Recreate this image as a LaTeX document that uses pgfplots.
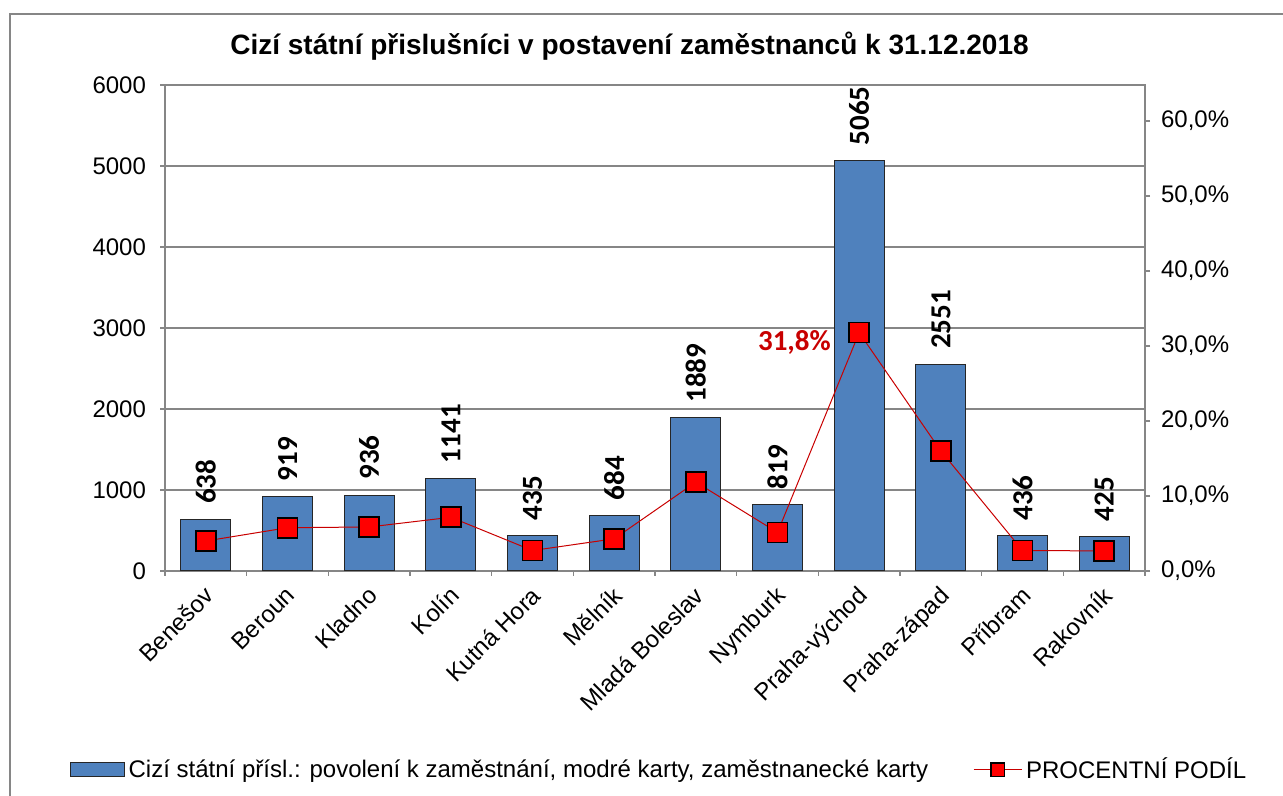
\documentclass[border=0pt]{standalone}
\usepackage{fontspec}
\setmainfont{Liberation Sans}
\newfontfamily\carlito{Carlito}
\usepackage{pgfplots}
\pgfplotsset{compat=1.18}
\definecolor{barblue}{RGB}{79,129,189}
\definecolor{gridgray}{RGB}{134,134,134}
\definecolor{darkred}{RGB}{200,0,0}
\pgfplotsset{
  mylineleg/.style={legend image code/.code={\draw[##1, mark size=3.4pt, mark repeat=2, mark phase=2] plot coordinates {(0pt,0pt) (12pt,0pt) (24pt,0pt)};}},
  mybarleg/.style={legend image code/.code={\draw[fill=barblue, draw=black!85, line width=0.5pt] (0pt,-3.5pt) rectangle (27pt,3.5pt);}}
}
\begin{document}
\begin{tikzpicture}[x=1pt,y=1pt]
\useasboundingbox (0,0) rectangle (641.5,398);
\draw[gridgray, line width=0.6pt] (5,-10) -- (5,391) -- (660,391);
\begin{axis}[
  at={(82.5pt,112.5pt)}, anchor=south west,
  width=490pt, height=243pt, scale only axis,
  xmin=-0.5, xmax=11.5, ymin=0, ymax=6000,
  axis line style={gridgray, line width=0.6pt},
  xtick={0,...,11},
  xticklabels={Benešov,Beroun,Kladno,Kolín,Kutná Hora,Mělník,Mladá Boleslav,Nymburk,Praha-východ,Praha-západ,Příbram,Rakovník},
  major x tick style={draw=none},
  minor xtick={-0.5,0.5,...,11.5},
  minor x tick style={gridgray, line width=0.6pt},
  minor tick length=2.5pt,
  major tick length=2.5pt,
  tick align=outside,
  xtick pos=bottom, ytick pos=left,
  ytick={0,1000,...,6000},
  yticklabels={0,1000,2000,3000,4000,5000,6000},
  ymajorgrids, grid style={gridgray, line width=0.6pt},
  y tick style={gridgray, line width=0.6pt},
  tick label style={font=\fontsize{12}{14}\selectfont, black},
  y tick label style={xshift=-3.5pt},
  x tick label style={rotate=45, anchor=north east, inner sep=1pt, xshift=-3pt, yshift=-1pt},
  title={\bfseries Cizí státní přislušníci v postavení zaměstnanců k 31.12.2018},
  title style={at={(0.474,1.055)}, anchor=center, font=\fontsize{14}{16}\selectfont},
]
\addplot[ybar, bar width=25pt, fill=barblue, draw=black!85, line width=0.5pt,
  nodes near coords, point meta=explicit symbolic,
  every node near coord/.append style={rotate=90, anchor=west, font=\carlito\bfseries\fontsize{14.5}{16}\selectfont, text=black, inner sep=0pt, xshift=7.5pt}]
coordinates {
(0,638) [638]
(1,919) [919]
(2,936) [936]
(3,1141) [1141]
(4,435) [435]
(5,684) [684]
(6,1889) [1889]
(7,819) [819]
(8,5065) [5065]
(9,2551) [2551]
(10,436) [436]
(11,425) [425]
};
\end{axis}
\begin{axis}[
  at={(82.5pt,112.5pt)}, anchor=south west,
  width=490pt, height=243pt, scale only axis,
  xmin=-0.5, xmax=11.5, ymin=0, ymax=64.8,
  hide x axis, axis y line*=right,
  axis line style={gridgray, line width=0.6pt},
  ytick={0,10,...,60},
  yticklabels={{0,0\%},{10,0\%},{20,0\%},{30,0\%},{40,0\%},{50,0\%},{60,0\%}},
  major tick length=2.5pt, tick align=outside,
  y tick style={gridgray, line width=0.6pt},
  tick label style={font=\fontsize{12}{14}\selectfont, black},
  y tick label style={xshift=2pt},
  legend style={at={(0.505,-0.409)}, anchor=center, draw=none, fill=none, legend columns=2,
    font=\fontsize{12}{14}\selectfont, /tikz/every even column/.append style={column sep=20.5pt}},
]
\addlegendimage{mybarleg}
\addlegendentry{Cizí státní přísl.: povolení k zaměstnání, modré karty, zaměstnanecké karty}
\addplot[color=darkred, line width=0.5pt, mark=square*, mark size=5pt,
  mark options={fill=red, draw=black, line width=0.8pt}, mylineleg]
coordinates {
(0,4.00) (1,5.77) (2,5.87) (3,7.16) (4,2.73) (5,4.29)
(6,11.85) (7,5.14) (8,31.78) (9,16.01) (10,2.74) (11,2.67)
};
\addlegendentry{PROCENTNÍ PODÍL}
\node[anchor=east, text=darkred, font=\carlito\bfseries\fontsize{14.5}{16}\selectfont, inner sep=0pt] at (axis cs:8,31.78) [xshift=-14pt, yshift=-5pt] {31,8\%};
\end{axis}
\end{tikzpicture}
\end{document}
